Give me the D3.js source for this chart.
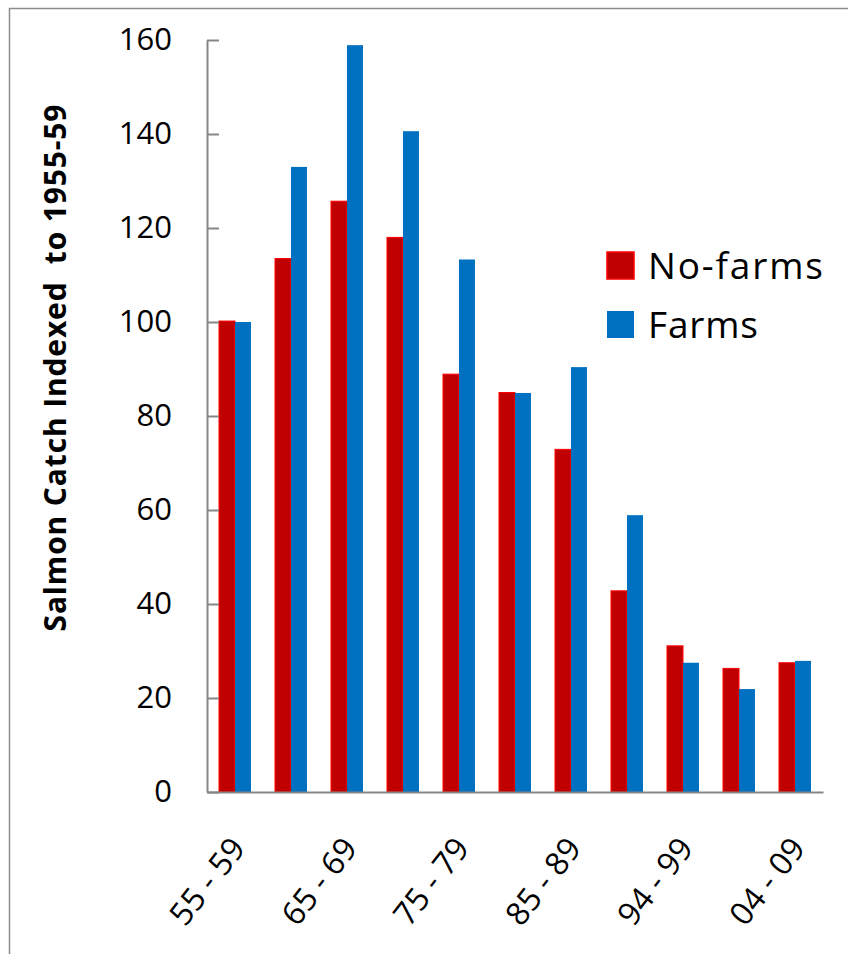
<!DOCTYPE html>
<html>
<head>
<meta charset="utf-8">
<script src="https://cdn.jsdelivr.net/npm/d3@7"></script>
<style>
  body { margin: 0; background: #fff; }
  svg { display: block; }
</style>
</head>
<body>
<svg id="chart" width="848" height="954"></svg>
<script>
// Five-year periods and salmon catch indexed to 1955-59 = 100
const periods = ["55 - 59", "60 - 64", "65 - 69", "70 - 74", "75 - 79", "80 - 84",
                 "85 - 89", "90 - 94", "94 - 99", "00 - 04", "04 - 09"];
const labelledPeriods = ["55 - 59", "65 - 69", "75 - 79", "85 - 89", "94 - 99", "04 - 09"];
const noFarms = [100.2, 113.5, 125.7, 118.0, 88.9, 85.0, 72.9, 42.8, 31.1, 26.3, 27.5];
const farms   = [100.0, 133.0, 158.9, 140.6, 113.3, 84.9, 90.4, 58.9, 27.5, 21.9, 27.9];
const seriesNames = ["No-farms", "Farms"];
const yTicks = [0, 20, 40, 60, 80, 100, 120, 140, 160];
const yTitle = "Salmon Catch Indexed\u00a0 to 1955-59";

const series = [
  { name: seriesNames[0], values: noFarms, fill: "#C00000", stroke: "#FF0000", len: 175 },
  { name: seriesNames[1], values: farms,   fill: "#0070C0", stroke: "none",    len: 110 }
];

const svg = d3.select("#chart");
const plot = { left: 207, right: 823, top: 40, bottom: 792 };
const axisColor = "#868686";
const font = "'Open Sans', Lato, sans-serif";

// outer chart frame
svg.append("rect")
  .attr("x", 9.5).attr("y", 8.5)
  .attr("width", 900).attr("height", 1000)
  .attr("fill", "none").attr("stroke", "#8c8c8c").attr("stroke-width", 1.5);

const x = d3.scaleBand().domain(periods).range([plot.left, plot.right]).padding(0);
const xs = d3.scaleBand().domain(seriesNames)
  .range([x.bandwidth() * 12 / 56, x.bandwidth() * 44 / 56]).padding(0);
const y = d3.scaleLinear().domain([0, 160]).range([plot.bottom, plot.top]);

// bars
const groups = svg.append("g").selectAll("g")
  .data(periods)
  .join("g")
  .attr("transform", d => `translate(${x(d)},0)`);

groups.selectAll("rect")
  .data((p, i) => series.map(s => ({ s, v: s.values[i] })))
  .join("rect")
  .attr("x", d => xs(d.s.name))
  .attr("width", xs.bandwidth())
  .attr("y", d => y(d.v))
  .attr("height", d => y(0) - y(d.v))
  .attr("fill", d => d.s.fill)
  .attr("stroke", d => d.s.stroke)
  .attr("stroke-width", 1);

// y axis with inward ticks
const yAxis = svg.append("g")
  .attr("transform", `translate(${plot.left},0)`)
  .call(d3.axisLeft(y).tickValues(yTicks).tickSizeInner(-12).tickSizeOuter(0).tickPadding(35));
yAxis.select(".domain").attr("stroke", axisColor).attr("stroke-width", 2);
yAxis.selectAll(".tick line").attr("stroke", axisColor).attr("stroke-width", 2);
yAxis.selectAll(".tick text")
  .attr("fill", "#000").style("font-family", font).style("font-size", "31px");

// x axis with slanted period labels
const xAxis = svg.append("g")
  .attr("transform", `translate(0,${plot.bottom})`)
  .call(d3.axisBottom(x).tickSize(0).tickSizeOuter(0)
    .tickFormat(d => labelledPeriods.includes(d) ? d : ""));
xAxis.select(".domain").attr("stroke", axisColor).attr("stroke-width", 2);
xAxis.selectAll(".tick text")
  .attr("fill", "#000").style("font-family", font).style("font-size", "32px")
  .attr("text-anchor", "end")
  .attr("x", 0).attr("y", 0).attr("dy", "0.35em")
  .attr("transform", "translate(3,50) rotate(-52)");

// y axis title
svg.append("text")
  .attr("transform", "translate(66,368) rotate(-90)")
  .attr("text-anchor", "middle")
  .attr("textLength", 527).attr("lengthAdjust", "spacing")
  .style("font-family", font).style("font-size", "30px").style("font-weight", "bold")
  .text(yTitle);

// legend
const legend = svg.append("g").selectAll("g")
  .data(series)
  .join("g")
  .attr("transform", (d, i) => `translate(607,${252 + i * 59})`);
legend.append("rect")
  .attr("width", 27).attr("height", 27)
  .attr("fill", d => d.fill).attr("stroke", d => d.stroke).attr("stroke-width", 1.5);
legend.append("text")
  .attr("x", 41).attr("y", 27)
  .attr("textLength", d => d.len).attr("lengthAdjust", "spacing")
  .style("font-family", font).style("font-size", "37px")
  .text(d => d.name);
</script>
</body>
</html>
